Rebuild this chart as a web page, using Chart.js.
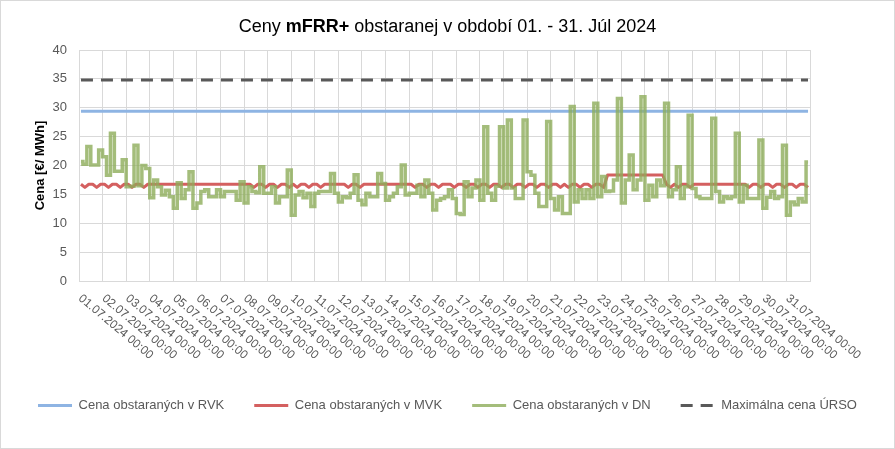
<!DOCTYPE html>
<html lang="sk">
<head>
<meta charset="utf-8">
<title>Ceny mFRR+ - Júl 2024</title>
<script src="https://cdn.jsdelivr.net/npm/chart.js@4.4.1/dist/chart.umd.min.js"></script>
<style>
    html, body { margin: 0; padding: 0; background: #fff; }
    #wrap { position: relative; width: 895px; height: 449px; }
</style>
</head>
<body>
<div id="wrap"><canvas id="priceChart"></canvas></div>
<script>
// Tick labels of the x axis (one per day)
const dayLabels = [
    '01.07.2024 00:00', '02.07.2024 00:00', '03.07.2024 00:00', '04.07.2024 00:00',
    '05.07.2024 00:00', '06.07.2024 00:00', '07.07.2024 00:00', '08.07.2024 00:00',
    '09.07.2024 00:00', '10.07.2024 00:00', '11.07.2024 00:00', '12.07.2024 00:00',
    '13.07.2024 00:00', '14.07.2024 00:00', '15.07.2024 00:00', '16.07.2024 00:00',
    '17.07.2024 00:00', '18.07.2024 00:00', '19.07.2024 00:00', '20.07.2024 00:00',
    '21.07.2024 00:00', '22.07.2024 00:00', '23.07.2024 00:00', '24.07.2024 00:00',
    '25.07.2024 00:00', '26.07.2024 00:00', '27.07.2024 00:00', '28.07.2024 00:00',
    '29.07.2024 00:00', '30.07.2024 00:00', '31.07.2024 00:00'
];

// 4-hour blocks inside each day
const blockHours = ['00', '04', '08', '12', '16', '20'];

// Cena obstaraných v RVK (flat over the month)
const rvkPrice = 29.4;

// Maximálna cena ÚRSO
const ursoMaxPrice = 34.8;

// Cena obstaraných v MVK, per 4h block
const mvkPrice = [
    16.75, 16.2, 16.75, 16.75, 16.2, 16.75,
    16.75, 16.2, 16.75, 16.75, 16.2, 16.75,
    16.75, 16.2, 16.75, 16.75, 16.2, 16.75,
    16.75, 16.75, 16.75, 16.75, 16.75, 16.75,
    16.75, 16.75, 16.75, 16.75, 16.75, 16.75,
    16.75, 16.75, 16.75, 16.75, 16.75, 16.75,
    16.75, 16.75, 16.75, 16.75, 16.75, 16.75,
    16.75, 16.75, 16.2, 16.75, 16.75, 16.2,
    16.75, 16.75, 16.2, 16.75, 16.75, 16.2,
    16.75, 16.2, 16.75, 16.75, 16.2, 16.75,
    16.75, 16.2, 16.75, 16.75, 16.75, 16.75,
    16.75, 16.75, 16.2, 16.75, 16.75, 16.2,
    16.75, 16.75, 16.75, 16.75, 16.75, 16.75,
    16.75, 16.75, 16.75, 16.75, 16.75, 16.75,
    16.75, 16.2, 16.75, 16.75, 16.2, 16.75,
    16.75, 16.2, 16.75, 16.75, 16.75, 16.2,
    16.75, 16.75, 16.2, 16.75, 16.75, 16.2,
    16.75, 16.75, 16.2, 16.75, 16.75, 16.2,
    16.75, 16.75, 16.2, 16.75, 16.75, 16.2,
    16.75, 16.75, 16.2, 16.75, 16.75, 16.2,
    16.75, 16.75, 16.2, 16.75, 16.2, 16.75,
    16.75, 16.2, 16.75, 16.75, 16.2, 16.75,
    16.75, 16.2, 18.35, 18.35, 18.35, 18.35,
    18.35, 18.35, 18.35, 18.35, 18.35, 18.35,
    18.35, 18.35, 18.35, 18.35, 18.35, 16.75,
    16.2, 16.75, 16.2, 16.75, 16.75, 16.2,
    16.75, 16.75, 16.75, 16.75, 16.75, 16.75,
    16.75, 16.75, 16.75, 16.75, 16.75, 16.75,
    16.75, 16.75, 16.2, 16.75, 16.75, 16.2,
    16.75, 16.75, 16.2, 16.75, 16.75, 16.2,
    16.75, 16.75, 16.2, 16.75, 16.75, 16.2
];

// Cena obstaraných v DN, per 4h block
const dnPrice = [
    20.7, 20.2, 23.3, 20.1, 20.1, 22.7,
    21.5, 18.3, 25.6, 19.0, 19.0, 21.0,
    16.3, 16.4, 23.5, 16.5, 20.0, 19.5,
    14.4, 17.5, 16.3, 14.9, 15.7, 14.6,
    12.6, 17.0, 14.3, 15.8, 18.9, 12.6,
    13.5, 15.5, 15.8, 14.6, 14.6, 15.8,
    14.6, 15.5, 15.5, 15.5, 14.0, 17.2,
    13.5, 16.3, 15.5, 15.3, 19.8, 15.2,
    15.2, 16.3, 13.5, 14.6, 14.6, 19.2,
    11.4, 14.9, 15.5, 14.4, 15.2, 12.9,
    15.2, 15.5, 15.5, 15.5, 18.6, 15.2,
    13.7, 14.6, 14.4, 15.2, 18.4, 14.0,
    13.2, 15.2, 14.6, 14.6, 18.6, 16.9,
    14.0, 14.6, 15.2, 16.3, 20.1, 14.9,
    15.2, 15.2, 16.6, 14.6, 17.5, 15.2,
    12.3, 14.0, 14.3, 14.6, 15.8, 14.3,
    11.7, 11.5, 17.2, 14.6, 16.1, 17.5,
    14.0, 26.7, 15.2, 14.0, 16.4, 26.7,
    16.1, 27.9, 16.1, 14.3, 14.3, 27.9,
    18.9, 18.3, 15.2, 12.9, 12.9, 27.6,
    14.3, 12.3, 14.6, 11.7, 11.7, 30.2,
    13.7, 15.8, 14.3, 15.8, 14.3, 30.8,
    14.6, 18.1, 15.5, 15.6, 17.5, 31.6,
    13.5, 17.5, 21.8, 15.8, 17.5, 31.9,
    14.0, 16.6, 14.6, 17.5, 16.5, 30.8,
    14.6, 15.8, 19.8, 14.3, 16.3, 28.7,
    16.0, 14.6, 14.3, 14.3, 14.3, 28.2,
    15.5, 13.7, 14.6, 14.3, 14.6, 25.6,
    13.7, 16.6, 14.3, 14.3, 14.3, 24.4,
    12.6, 14.5, 15.5, 14.3, 14.6, 23.5,
    11.4, 13.7, 13.2, 14.3, 13.7, 20.6
];

const FONT = '"Liberation Sans", Arial, sans-serif';

document.addEventListener('DOMContentLoaded', function() {
    initPriceChart();
});

/**
 * Build block categories ("dd.mm.yyyy hh:00") from the day labels
 */
function buildBlockLabels() {
    const labels = [];
    dayLabels.forEach(day => {
        blockHours.forEach(h => {
            labels.push(day.slice(0, 11) + h + ':00');
        });
    });
    return labels;
}

// Title with the bold "mFRR+" part
const titlePlugin = {
    id: 'mixedTitle',
    afterDraw(chart) {
        const ctx = chart.ctx;
        const parts = [
            { text: 'Ceny ', bold: false },
            { text: 'mFRR+', bold: true },
            { text: ' obstaranej v období 01. - 31. Júl 2024', bold: false }
        ];
        ctx.save();
        ctx.textBaseline = 'middle';
        ctx.textAlign = 'left';
        ctx.fillStyle = '#000';
        let total = 0;
        parts.forEach(p => {
            ctx.font = (p.bold ? 'bold ' : '') + '18px ' + FONT;
            p.width = ctx.measureText(p.text).width;
            total += p.width;
        });
        let x = chart.width / 2 - total / 2;
        parts.forEach(p => {
            ctx.font = (p.bold ? 'bold ' : '') + '18px ' + FONT;
            ctx.fillText(p.text, x, 27);
            x += p.width;
        });
        ctx.restore();
    }
};

// Day labels rotated clockwise, starting at each day gridline
const dayLabelsPlugin = {
    id: 'dayLabels',
    afterDraw(chart) {
        const ctx = chart.ctx;
        const x = chart.scales.x;
        const step = x.getPixelForValue(1) - x.getPixelForValue(0);
        ctx.save();
        ctx.font = '12px ' + FONT;
        ctx.fillStyle = '#595959';
        ctx.textAlign = 'left';
        ctx.textBaseline = 'middle';
        dayLabels.forEach((label, i) => {
            const px = x.getPixelForValue(i * blockHours.length) - step / 2;
            ctx.save();
            ctx.translate(px + 1, x.top + 16);
            ctx.rotate(40 * Math.PI / 180);
            ctx.fillText(label, 0, 0);
            ctx.restore();
        });
        ctx.restore();
    }
};

// Thin frame round the whole chart
const framePlugin = {
    id: 'frame',
    afterDraw(chart) {
        const ctx = chart.ctx;
        ctx.save();
        ctx.strokeStyle = '#d9d9d9';
        ctx.lineWidth = 1;
        ctx.strokeRect(0.5, 0.5, chart.width - 1, chart.height - 1);
        ctx.restore();
    }
};

/**
 * Legend items drawn as line samples, dashed where the dataset is dashed
 */
function legendLabels(chart) {
    const items = Chart.defaults.plugins.legend.labels.generateLabels(chart);
    items.forEach(item => {
        const ds = chart.data.datasets[item.datasetIndex];
        item.lineDash = ds.borderDash || [];
        item.lineWidth = 3;
        item.strokeStyle = ds.borderColor;
    });
    return items;
}

/**
 * Initialize the price chart
 */
function initPriceChart() {
    const chartElement = document.getElementById('priceChart');
    const labels = buildBlockLabels();
    const first = labels[0];
    const last = labels[labels.length - 1];

    new Chart(chartElement, {
        type: 'line',
        data: {
            labels: labels,
            datasets: [{
                label: 'Cena obstaraných v RVK',
                data: [{ x: first, y: rvkPrice }, { x: last, y: rvkPrice }],
                borderColor: '#8eb4e3',
                backgroundColor: '#8eb4e3',
                borderWidth: 3,
                pointRadius: 0,
                order: 4
            }, {
                label: 'Cena obstaraných v MVK',
                data: mvkPrice,
                borderColor: '#d46060',
                backgroundColor: '#d46060',
                borderWidth: 3,
                pointRadius: 0,
                borderJoinStyle: 'round',
                order: 3
            }, {
                label: 'Cena obstaraných v DN',
                data: dnPrice,
                borderColor: 'rgba(141, 173, 90, 0.8)',
                backgroundColor: 'rgba(141, 173, 90, 0.8)',
                borderWidth: 3.5,
                pointRadius: 0,
                stepped: 'middle',
                order: 2
            }, {
                label: 'Maximálna cena ÚRSO',
                data: [{ x: first, y: ursoMaxPrice }, { x: last, y: ursoMaxPrice }],
                borderColor: '#595959',
                backgroundColor: '#595959',
                borderWidth: 3,
                borderDash: [12, 8],
                pointRadius: 0,
                order: 1
            }]
        },
        options: {
            responsive: true,
            maintainAspectRatio: false,
            animation: false,
            layout: {
                padding: { top: 50, right: 0, bottom: 27, left: 0 }
            },
            scales: {
                x: {
                    type: 'category',
                    offset: true,
                    ticks: { display: false, autoSkip: false },
                    grid: {
                        offset: true,
                        drawTicks: false,
                        color: function(ctx) {
                            return (ctx.index === undefined || ctx.index % blockHours.length === 0)
                                ? '#d9d9d9' : 'rgba(0,0,0,0)';
                        }
                    },
                    border: { color: '#d9d9d9' },
                    afterFit: function(scale) { scale.height = 88; }
                },
                y: {
                    min: 0,
                    max: 40,
                    ticks: {
                        stepSize: 5,
                        color: '#595959',
                        padding: 12,
                        font: { size: 13, family: FONT }
                    },
                    grid: { color: '#d9d9d9', drawTicks: false },
                    border: { color: '#d9d9d9' },
                    title: {
                        display: true,
                        text: 'Cena [€/ MWh]',
                        color: '#000',
                        font: { size: 13, weight: 'bold', family: FONT },
                        padding: { top: 33, bottom: 0 }
                    },
                    afterFit: function(scale) { scale.width = 79; }
                },
                spacer: {
                    type: 'linear',
                    position: 'right',
                    display: true,
                    ticks: { display: false },
                    grid: { drawOnChartArea: false, drawTicks: false },
                    border: { display: false },
                    afterFit: function(scale) { scale.width = 85; }
                }
            },
            plugins: {
                legend: {
                    position: 'bottom',
                    labels: {
                        usePointStyle: true,
                        pointStyle: 'line',
                        pointStyleWidth: 34,
                        color: '#595959',
                        padding: 30,
                        font: { size: 13, family: FONT },
                        generateLabels: legendLabels,
                        sort: function(a, b) { return a.datasetIndex - b.datasetIndex; }
                    }
                },
                tooltip: { enabled: false }
            }
        },
        plugins: [titlePlugin, dayLabelsPlugin, framePlugin]
    });
}
</script>
</body>
</html>
